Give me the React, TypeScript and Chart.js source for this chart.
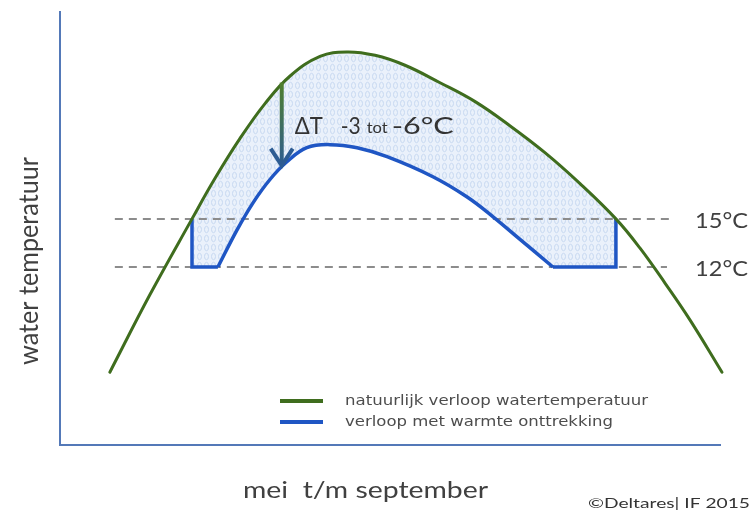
import React, { useEffect, useRef } from 'react';
import { Chart, registerables } from 'chart.js';

Chart.register(...registerables);

// x = days since 1 May, y = water temperature (°C)
const naturalDays = [0, 10.0, 20.6, 26.3, 32.6, 38.9, 45.2, 52.7, 59.4, 66.5, 74.0, 82.8, 91.6, 100.3, 109.1, 117.9, 126.9, 132.9, 139.2, 145.5, 153.5];
const naturalTemps = [5.44, 10.25, 15.0, 17.5, 20.0, 22.19, 23.91, 25.13, 25.41, 25.2, 24.58, 23.49, 22.31, 20.81, 19.13, 17.2, 15.0, 13.19, 11.0, 8.69, 5.44];

const coolDays = [27.1, 31.9, 35.9, 40.1, 44.4, 49.4, 55.2, 62.0, 69.5, 81.0, 89.5, 96.1, 102.1, 111.1];
const coolTemps = [12.0, 14.31, 16.0, 17.44, 18.56, 19.44, 19.63, 19.44, 18.88, 17.63, 16.38, 15.13, 13.88, 12.0];

const startStepDays = [20.6, 20.6, 27.1];
const startStepTemps = [15, 12, 12];
const endStepDays = [111.1, 126.9, 126.9];
const endStepTemps = [12, 12, 15];

const thresholdTemps = [15, 12];
const thresholdLabels = ['15°C', '12°C'];
const thresholdStartDay = 1.25;
const thresholdEndDays = [140.5, 139.7];

const arrowDay = 43.1;
const arrowTopTemp = 23.5;
const arrowTipTemp = 18.2;

const seriesLabels = ['natuurlijk verloop watertemperatuur', 'verloop met warmte onttrekking'];
const deltaParts = ['ΔT', '-3', 'tot', '-6°C'];
const xTitle = 'mei  t/m september';
const yTitle = 'water temperatuur';
const credit = '©Deltares| IF 2015';

const xMin = -12.5;
const xMax = 153;
const yMin = 0.9;
const yMax = 27.9;

const GREEN = '#3f6d1e';
const BLUE = '#1f56c4';
const AXIS = '#5479b8';
const DASH = '#8c8c8c';
const TEXT = '#404040';

const pts = (xs: number[], ys: number[]) => xs.map((x, i) => ({ x, y: ys[i] }));

function fitText(ctx: CanvasRenderingContext2D, text: string, x: number, y: number, font: string, width: number, color: string) {
  ctx.save();
  ctx.font = font;
  ctx.fillStyle = color;
  ctx.textBaseline = 'middle';
  ctx.textAlign = 'left';
  const w0 = ctx.measureText(text).width || 1;
  ctx.translate(x, y);
  ctx.scale(width / w0, 1);
  ctx.fillText(text, 0, 0);
  ctx.restore();
}

function makePattern(ctx: CanvasRenderingContext2D) {
  const c = document.createElement('canvas');
  c.width = 7;
  c.height = 9;
  const g = c.getContext('2d')!;
  g.fillStyle = '#eaf1fb';
  g.fillRect(0, 0, 7, 9);
  g.strokeStyle = '#c8d9f1';
  g.lineWidth = 1;
  g.beginPath();
  g.ellipse(3.5, 4.5, 2, 3.2, 0, 0, Math.PI * 2);
  g.stroke();
  return ctx.createPattern(c, 'repeat')!;
}

const annotations = {
  id: 'annotations',
  afterDatasetsDraw(chart: any) {
    const ctx: CanvasRenderingContext2D = chart.ctx;
    const xs = chart.scales.x;
    const ys = chart.scales.y;

    // arrow
    const ax = xs.getPixelForValue(arrowDay);
    const aTop = ys.getPixelForValue(arrowTopTemp);
    const aTip = ys.getPixelForValue(arrowTipTemp);
    ctx.save();
    const grad = ctx.createLinearGradient(0, aTop, 0, aTip);
    grad.addColorStop(0, '#4f7f2c');
    grad.addColorStop(1, '#2d5c93');
    ctx.strokeStyle = grad;
    ctx.lineWidth = 4;
    ctx.beginPath();
    ctx.moveTo(ax, aTop);
    ctx.lineTo(ax, aTip - 3);
    ctx.stroke();
    ctx.strokeStyle = '#2d5c93';
    ctx.lineJoin = 'miter';
    ctx.beginPath();
    ctx.moveTo(ax - 11, aTip - 19);
    ctx.lineTo(ax, aTip - 2);
    ctx.lineTo(ax + 11, aTip - 19);
    ctx.stroke();
    ctx.restore();

    // delta text
    const dy = 126;
    fitText(ctx, deltaParts[0], ax + 13, dy, '24px Lato', 28, '#333');
    fitText(ctx, deltaParts[1], ax + 59, dy, '24px Lato', 20, '#333');
    fitText(ctx, deltaParts[2], ax + 85, dy + 2, '16px Lato', 21, '#333');
    fitText(ctx, deltaParts[3], ax + 110, dy, '24px Lato', 62, '#333');

    // threshold labels
    thresholdTemps.forEach((t, i) => {
      const py = ys.getPixelForValue(t);
      fitText(ctx, thresholdLabels[i], 695, py + 2, '22px Lato', 53, TEXT);
    });

    // legend
    const ds = chart.data.datasets;
    const legendRows = [401, 422];
    [0, 1].forEach((i) => {
      const ly = legendRows[i];
      ctx.save();
      ctx.strokeStyle = ds[i].borderColor;
      ctx.lineWidth = 4;
      ctx.beginPath();
      ctx.moveTo(280, ly);
      ctx.lineTo(323, ly);
      ctx.stroke();
      ctx.restore();
      fitText(ctx, ds[i].label, 345, ly, '13.5px "DejaVu Sans"', i === 0 ? 303 : 268, '#4d4d4d');
    });

    // axis titles
    fitText(ctx, xTitle, 243, 491, '23px Lato', 245, TEXT);
    ctx.save();
    ctx.translate(30, 261);
    ctx.rotate(-Math.PI / 2);
    fitText(ctx, yTitle, -104, 0, '26px Lato', 208, TEXT);
    ctx.restore();

    // credit
    fitText(ctx, credit, 588, 503, '14px Lato', 162, '#333');
  },
};

export default function App() {
  const ref = useRef<HTMLCanvasElement | null>(null);
  useEffect(() => {
    const canvas = ref.current!;
    const ctx = canvas.getContext('2d')!;
    const pattern = makePattern(ctx);
    const base = { pointRadius: 0, pointHoverRadius: 0, clip: false as any };
    const chart = new Chart(canvas, {
      type: 'line',
      data: {
        datasets: [
          { ...base, label: seriesLabels[0], data: pts(naturalDays, naturalTemps), borderColor: GREEN, borderWidth: 3, tension: 0.4, fill: false, order: 1, borderCapStyle: 'round' },
          { ...base, label: seriesLabels[1], data: pts(coolDays, coolTemps), borderColor: BLUE, borderWidth: 3.5, tension: 0.4, fill: { target: 0 }, backgroundColor: pattern, order: 2 },
          { ...base, label: 'start', data: pts(startStepDays, startStepTemps), borderColor: BLUE, borderWidth: 3.5, tension: 0, fill: { target: 0 }, backgroundColor: pattern, order: 2 },
          { ...base, label: 'end', data: pts(endStepDays, endStepTemps), borderColor: BLUE, borderWidth: 3.5, tension: 0, fill: { target: 0 }, backgroundColor: pattern, order: 2 },
          { ...base, label: thresholdLabels[0], data: pts([thresholdStartDay, thresholdEndDays[0]], [thresholdTemps[0], thresholdTemps[0]]), borderColor: DASH, borderWidth: 2, borderDash: [8, 6], fill: false, order: 3 },
          { ...base, label: thresholdLabels[1], data: pts([thresholdStartDay, thresholdEndDays[1]], [thresholdTemps[1], thresholdTemps[1]]), borderColor: DASH, borderWidth: 2, borderDash: [8, 6], fill: false, order: 3 },
        ] as any,
      },
      options: {
        animation: false,
        responsive: false,
        events: [],
        layout: { padding: { left: 60, top: 12, right: 34, bottom: 70 } },
        scales: {
          x: { type: 'linear', min: xMin, max: xMax, grid: { display: false, drawTicks: false }, ticks: { display: false }, border: { display: true, color: AXIS, width: 2 } },
          y: { type: 'linear', min: yMin, max: yMax, grid: { display: false, drawTicks: false }, ticks: { display: false }, border: { display: true, color: AXIS, width: 2 } },
        },
        plugins: {
          legend: { display: false },
          tooltip: { enabled: false },
          filler: { drawTime: 'beforeDatasetsDraw' },
        } as any,
      },
      plugins: [annotations],
    });
    return () => chart.destroy();
  }, []);
  return (
    <div style={{ position: 'absolute', left: 0, top: 0, width: 754, height: 515, background: '#fff' }}>
      <canvas ref={ref} width={754} height={515} />
    </div>
  );
}
